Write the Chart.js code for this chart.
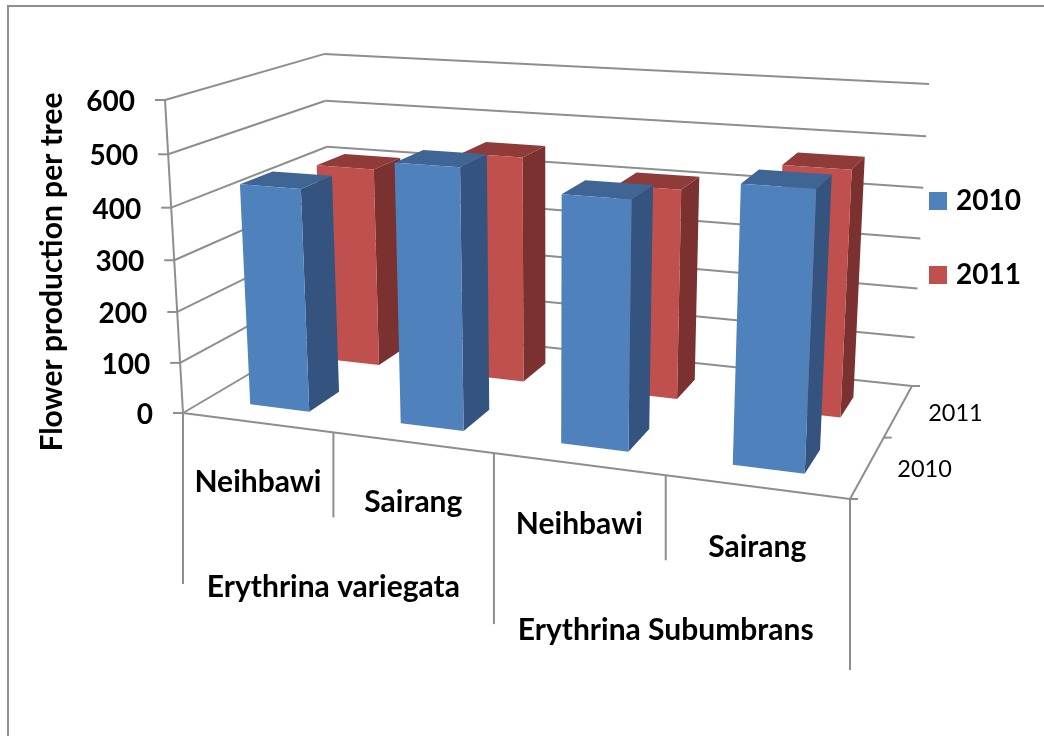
<!DOCTYPE html>
<html>
<head>
<meta charset="utf-8">
<title>Flower production per tree</title>
<script src="https://cdn.jsdelivr.net/npm/chart.js@4/dist/chart.umd.min.js"></script>
<style>
  html, body { margin: 0; padding: 0; background: #fff; }
  #wrap { width: 1044px; height: 736px; }
</style>
</head>
<body>
<div id="wrap"><canvas id="flowerChart" width="1044" height="736"></canvas></div>
<script>
const sites = ["Neihbawi", "Sairang", "Neihbawi", "Sairang"];
const species = ["Erythrina variegata", "Erythrina Subumbrans"];
const years = ["2010", "2011"];
const values2010 = [433, 495, 460, 501];
const values2011 = [410, 455, 414, 474];

const FONT = "Lato, sans-serif";
const INK = "#000";
const AXIS = "#8e8e8e";
const faces = [
  { front: "#4f81bd", side: "#34547f", top: "#3e6594" },
  { front: "#c0504d", side: "#7a312f", top: "#8f3b39" },
];

// floor corners: front-left, front-right, back-right, back-left
const floorQuad = [[183, 413], [850, 499], [912, 386], [333, 324.5]];
// where the verticals meet, and the top of the value axis
const verticalVanish = [550, 6800];
const axisTop = [165, 100];
// depth slot taken by each series, front row first
const rows = [[0.14, 0.34], [0.63, 0.83]];

// unit square -> floor quad, plus a third column for height
function makeCamera(q, vp, top) {
  const [[x0, y0], [x1, y1], [x2, y2], [x3, y3]] = q;
  const sx = x0 - x1 + x2 - x3, sy = y0 - y1 + y2 - y3;
  const dx1 = x1 - x2, dx2 = x3 - x2, dy1 = y1 - y2, dy2 = y3 - y2;
  const den = dx1 * dy2 - dx2 * dy1;
  const g = (sx * dy2 - dx2 * sy) / den;
  const h = (dx1 * sy - sx * dy1) / den;
  const a = x1 - x0 + g * x1, b = x3 - x0 + h * x3;
  const d = y1 - y0 + g * y1, e = y3 - y0 + h * y3;
  const k = (y0 - top[1]) / (top[1] - vp[1]);
  return (u, v, t) => {
    const w = g * u + h * v + 1 + k * t;
    return [(a * u + b * v + x0 + k * vp[0] * t) / w, (d * u + e * v + y0 + k * vp[1] * t) / w];
  };
}

const project = makeCamera(floorQuad, verticalVanish, axisTop);

function line(ctx, p, q) {
  ctx.beginPath();
  ctx.moveTo(p[0], p[1]);
  ctx.lineTo(q[0], q[1]);
  ctx.stroke();
}

function poly(ctx, pts, color) {
  ctx.fillStyle = color;
  ctx.beginPath();
  pts.forEach((p, i) => (i ? ctx.lineTo(p[0], p[1]) : ctx.moveTo(p[0], p[1])));
  ctx.closePath();
  ctx.fill();
}

function label(ctx, text, x, y, font, align) {
  ctx.font = font;
  ctx.fillStyle = INK;
  ctx.textAlign = align || "center";
  ctx.textBaseline = "middle";
  ctx.fillText(text, x, y);
}

function drawWalls(chart, ctx) {
  const yScale = chart.scales.y;
  const span = yScale.bottom - yScale.top;
  ctx.strokeStyle = AXIS;
  ctx.lineWidth = 2;

  yScale.ticks.forEach((tick) => {
    const h = (yScale.bottom - yScale.getPixelForValue(tick.value)) / span;
    const front = project(0, 0, h);
    const back = project(0, 1, h);
    const end = project(1, 1, h);
    line(ctx, front, back);
    line(ctx, back, end);
    line(ctx, front, [front[0] - 10, front[1]]);
    label(ctx, String(tick.value), front[0] - 30, front[1] + 2, "bold 28px " + FONT, "right");
  });
  line(ctx, project(0, 0, 0), project(0, 0, 1));

  // floor edges and the depth axis
  line(ctx, project(0, 0, 0), project(1, 0, 0));
  line(ctx, project(1, 0, 0), project(1, 1, 0));
  [0, 0.5, 1].forEach((d) => {
    const p = project(1, d, 0);
    line(ctx, p, [p[0] + 8, p[1]]);
  });
  years.forEach((year, i) => {
    const p = project(1, (i + 0.5) / years.length, 0);
    label(ctx, year, p[0] + 57, p[1] + 3, "23.5px " + FONT);
  });

  // two-level category axis under the floor
  for (let i = 0; i <= sites.length; i++) {
    const p = project(i / sites.length, 0, 0);
    const long = i % 2 === 0;
    line(ctx, p, [p[0], p[1] + (long ? 171 : 85)]);
  }
  sites.forEach((site, i) => {
    const p = project((i + 0.5) / sites.length, 0, 0);
    label(ctx, site, p[0] + 1, p[1] + 60, "bold 30px " + FONT);
  });
  species.forEach((name, i) => {
    const p = project((i + 0.5) / species.length, 0, 0);
    label(ctx, name, p[0], p[1] + 155, "bold 30px " + FONT);
  });
}

function drawBars(chart, ctx) {
  const { x: xScale, y: yScale } = chart.scales;
  const span = yScale.bottom - yScale.top;
  for (let s = rows.length - 1; s >= 0; s--) {
    const [d0, d1] = rows[s];
    const color = faces[s];
    chart.getDatasetMeta(s).data.forEach((bar) => {
      const u0 = (bar.x - bar.width / 2 - xScale.left) / xScale.width;
      const u1 = (bar.x + bar.width / 2 - xScale.left) / xScale.width;
      const h = (bar.base - bar.y) / span;
      poly(ctx, [project(u1, d0, 0), project(u1, d1, 0), project(u1, d1, h), project(u1, d0, h)], color.side);
      poly(ctx, [project(u0, d0, h), project(u1, d0, h), project(u1, d1, h), project(u0, d1, h)], color.top);
      poly(ctx, [project(u0, d0, 0), project(u1, d0, 0), project(u1, d0, h), project(u0, d0, h)], color.front);
    });
  }
}

function drawLegend(chart, ctx) {
  chart.data.datasets.forEach((ds, i) => {
    const y = 201 + i * 74;
    ctx.fillStyle = ds.backgroundColor;
    ctx.fillRect(929, y - 9, 18, 18);
    label(ctx, ds.label, 956, y, "bold 28px " + FONT, "left");
  });
}

const box3d = {
  id: "box3d",
  beforeDatasetsDraw(chart) {
    const ctx = chart.ctx;
    ctx.save();

    ctx.strokeStyle = AXIS;
    ctx.lineWidth = 2;
    ctx.beginPath();
    ctx.moveTo(8, 740);
    ctx.lineTo(8, 6);
    ctx.lineTo(1050, 6);
    ctx.stroke();

    drawWalls(chart, ctx);
    drawBars(chart, ctx);
    drawLegend(chart, ctx);

    ctx.translate(52, 272);
    ctx.rotate(-Math.PI / 2);
    label(ctx, "Flower production per tree", 0, 0, "bold 30px " + FONT);
    ctx.restore();
    return false;
  },
};

window.onload = function () {
  new Chart(document.getElementById("flowerChart"), {
    type: "bar",
    data: {
      labels: sites,
      datasets: [
        { label: years[0], data: values2010, backgroundColor: faces[0].front },
        { label: years[1], data: values2011, backgroundColor: faces[1].front },
      ],
    },
    plugins: [box3d],
    options: {
      responsive: false,
      animation: false,
      layout: { padding: { left: 183, right: 194, top: 100, bottom: 323 } },
      datasets: { bar: { grouped: false, categoryPercentage: 1, barPercentage: 0.4 } },
      scales: {
        x: { display: false },
        y: { display: false, min: 0, max: 600, ticks: { stepSize: 100 } },
      },
      plugins: {
        tooltip: { enabled: false },
        legend: { display: false },
      },
    },
  });
};
</script>
</body>
</html>
